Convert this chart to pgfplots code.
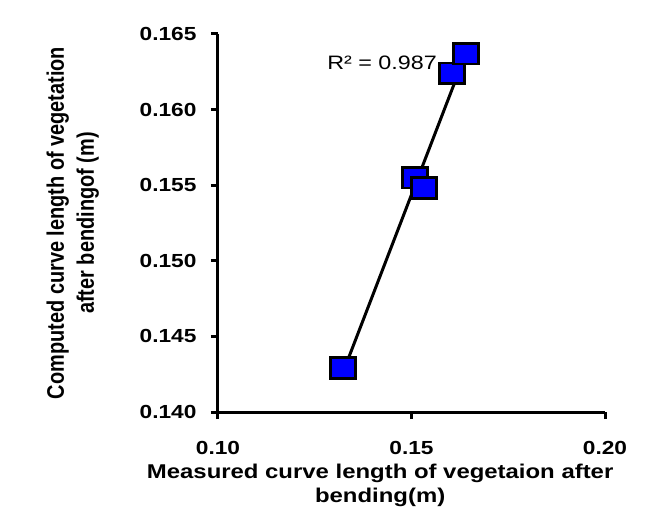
\documentclass[border=0pt]{standalone}
\usepackage{fontspec}
\setmainfont{Liberation Sans}[FakeStretch=1.2]
\newfontfamily\ylfont{Liberation Sans}
\usepackage{pgfplots}
\pgfplotsset{compat=1.18}
\definecolor{mkblue}{RGB}{0,0,255}
\begin{document}
\begin{tikzpicture}
\begin{axis}[
  name=ax,
  scale only axis,
  width=387bp, height=378bp,
  xmin=0.10, xmax=0.20, ymin=0.140, ymax=0.165,
  axis x line*=bottom, axis y line*=left,
  axis line style={line width=3bp, black},
  xtick={0.10,0.15,0.20},
  ytick={0.140,0.145,0.150,0.155,0.160,0.165},
  tick align=outside, major tick length=7bp,
  tick style={line width=3bp, black},
  /pgf/number format/assume math mode=true,
  x tick label style={/pgf/number format/fixed, /pgf/number format/fixed zerofill, /pgf/number format/precision=2, yshift=-19bp},
  y tick label style={/pgf/number format/fixed, /pgf/number format/fixed zerofill, /pgf/number format/precision=3, xshift=-11bp},
  scaled ticks=false,
  tick label style={font=\fontsize{19}{22}\selectfont\bfseries},
  xlabel={Measured curve length of vegetaion after\\bending(m)},
  xlabel style={font=\fontsize{20}{24}\selectfont\bfseries, align=center, at={(axis description cs:0.419,-0.1296)}, anchor=north},
  ylabel={Computed curve length of vegetation\\after bendingof (m)},
  ylabel style={font=\ylfont\fontsize{20}{25}\selectfont\bfseries, align=center, at={(axis description cs:-0.297,0.5)}, anchor=south, yscale=1.2},
  clip=false,
]
\addplot[only marks, mark=square*, mark size=10.4bp,
  mark options={fill=mkblue, draw=black, line width=2.8bp, xscale=1.2}]
  coordinates {(0.1323,0.1429) (0.1510,0.1555) (0.1533,0.1548) (0.1605,0.1624) (0.1641,0.1637)};
\addplot[black, line width=3bp] coordinates {(0.1323,0.14262) (0.1641,0.16374)};
\node[anchor=east, font=\fontsize{19.5}{22}\selectfont, inner sep=0pt] at (axis cs:0.1566,0.1631) {R² = 0.987};
\end{axis}
\pgfresetboundingbox
\path[use as bounding box] ([shift={(-218bp,-105bp)}]ax.south west) rectangle ([shift={(449bp,412bp)}]ax.south west);
\end{tikzpicture}
\end{document}
